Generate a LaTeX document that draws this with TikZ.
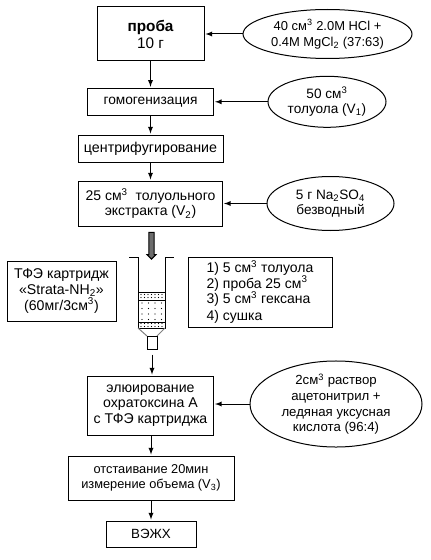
\documentclass[tikz,border=0pt]{standalone}
\usepackage{fontspec}
\setmainfont{Liberation Sans}
\usetikzlibrary{shapes.geometric,shapes.arrows}
\tikzset{
    sized/.style 2 args={minimum width=#1*0.75pt,minimum height=#2*0.75pt,inner sep=0pt},
    txt/.style={font=\fontsize{#1}{11.7}\selectfont},
    stage/.style={draw,align=center,txt=10},
    reagent/.style={draw,ellipse,align=center,txt=10},
    flow/.style={-latex,line width=0.75pt,shorten >=0.75pt}
}
\begin{document}
\begin{tikzpicture}[x=0.75pt,y=-0.75pt,line width=0.75pt]
            \def\wallL{138}
            \def\wallR{165}
            \def\wallT{257}
            \def\bedT{292}
            \def\bedA{300}
            \def\bedB{322}
            \def\bedE{328}
            \useasboundingbox (0,0) rectangle (430,560);
            \node[stage,sized={107}{54}] (sample) at (150.5,34)
                {{\fontsize{11.5}{14}\selectfont\bfseries проба}\\[1pt]{\fontsize{11.5}{14}\selectfont 10 г}};
            \node[stage,sized={126}{27},txt=10.3] (homog) at (150.5,101.8) {гомогенизация};
            \node[stage,sized={145}{27},txt=10.7] (centr) at (150.5,148.5) {центрифугирование};
            \node[stage,sized={144}{45},txt=10.5] (extract) at (150.5,203.5)
                {25 см\textsuperscript{3}\ \ толуольного\\экстракта (V\textsubscript{2})};
            \node[reagent,sized={169}{49},txt=9.7] (acid) at (327.5,34)
                {40 см\textsuperscript{3} 2.0M HCl +\\0.4M MgCl\textsubscript{2} (37:63)};
            \node[reagent,sized={118}{51},txt=10.2] (toluene) at (327,101.8)
                {50 см\textsuperscript{3}\\толуола (V\textsubscript{1})};
            \node[reagent,sized={127}{54},txt=10.2] (sulfate) at (330.5,203.5)
                {5 г Na\textsubscript{2}SO\textsubscript{4}\\безводный};
            \node[stage,sized={109}{60},txt=10.6] (cartinfo) at (61.5,291)
                {ТФЭ картридж\\«Strata-NH\textsubscript{2}»\\(60мг/3см\textsuperscript{3})};
            \node[stage,sized={144}{70},align=left,txt=10.5] (steps) at (260,292)
                {1) 5 см\textsuperscript{3} толуола\\2) проба 25 см\textsuperscript{3}\\3) 5 см\textsuperscript{3} гексана\\[1pt]4) сушка};
            \node[draw,fill=gray!85!black,shape=single arrow,shape border rotate=270,
                single arrow head extend=1.2pt,single arrow head indent=0pt,
                sized={27}{9},minimum width=6.8pt,minimum height=20pt,inner sep=1.2pt] (inlet) at (151.5,244.5) {};
            \draw (129,\wallT)--(\wallL,\wallT)--(\wallL,\bedE)--(\wallR,\bedE)--(\wallR,\wallT)--(174,\wallT);
            \draw (\wallL,\bedT)--(\wallR,\bedT);
            \draw (\wallL,\bedA)--(\wallR,\bedA);
            \draw (\wallL,\bedB)--(\wallR,\bedB);
            \foreach \j in {0,...,6}
            {\foreach \i in {0,1}
                {\fill ({\wallL+3+\j*3.5},{\bedT+2.5+\i*3}) circle (0.4pt);
                 \fill ({\wallL+3+\j*3.5},{\bedB+1.5+\i*3}) circle (0.4pt);}}
            \foreach \j in {0,...,3}
            {\foreach \i in {0,...,3}
                {\fill ({\wallL+4+\j*6.5},{\bedA+3+\i*5.5}) circle (0.4pt);}}
            \draw[gray] (\wallL,\bedE)--(147,336);
            \draw[gray] (\wallR,\bedE)--(157,336);
            \node[draw,sized={10}{13}] (tip) at (152,342.5) {};
            \node[stage,sized={126}{59},txt=10.6] (elution) at (150.5,405.5)
                {элюирование\\охратоксина А\\с ТФЭ картриджа};
            \node[reagent,sized={172}{86},txt=9.9] (eluent) at (336,404)
                {2см\textsuperscript{3} раствор\\ацетонитрил +\\ледяная уксусная\\кислота (96:4)};
            \node[stage,sized={166}{44},txt=9.6] (settle) at (151,478)
                {отстаивание 20мин\\измерение объема (V\textsubscript{3})};
            \node[stage,sized={90}{26}] (hplc) at (151,534) {ВЭЖХ};
            \draw[flow] (sample)--(homog);
            \draw[flow] (homog)--(centr);
            \draw[flow] (centr)--(extract);
            \draw[flow] (settle.north |- elution.south)--(settle.north);
            \draw[flow] (settle)--(hplc);
            \draw[flow] (acid)--(sample);
            \draw[flow] (toluene)--(homog);
            \draw[flow] (sulfate)--(extract);
            \draw[flow] (eluent.west)--(eluent.west -| elution.east);
            \draw[flow,shorten <=3.75pt] (tip.south)--(tip.south |- elution.north);
            \end{tikzpicture}
\end{document}
